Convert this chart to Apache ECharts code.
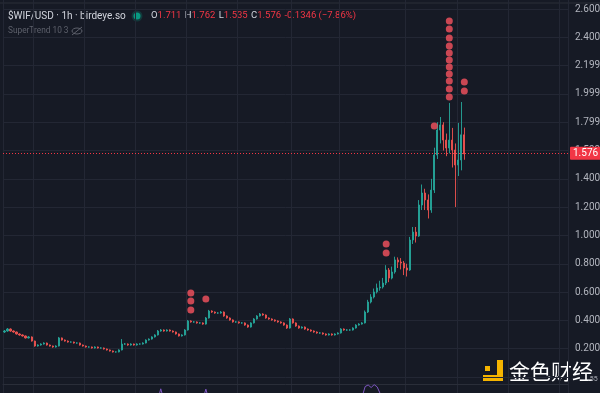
<!DOCTYPE html>
<html><head><meta charset="utf-8">
<script src="https://cdn.jsdelivr.net/npm/echarts@6/dist/echarts.min.js"></script>
<style>html,body{margin:0;padding:0;background:#161a25}#c{width:600px;height:393px}</style>
</head><body><div id="c"></div>
<script>
// ---- data ----
const opens = [
0.318,0.325,0.339,0.325,0.318,0.304,0.297,0.290,0.276,0.283,
0.254,0.219,0.226,0.233,0.240,0.226,0.219,0.212,0.219,0.276,
0.261,0.254,0.247,0.247,0.240,0.240,0.226,0.219,0.212,0.212,
0.205,0.212,0.205,0.205,0.198,0.191,0.184,0.177,0.177,0.191,
0.233,0.233,0.226,0.233,0.226,0.233,0.233,0.240,0.261,0.268,
0.283,0.297,0.325,0.332,0.325,0.332,0.325,0.318,0.304,0.290,
0.297,0.332,0.396,0.389,0.389,0.382,0.382,0.374,0.417,0.466,
0.459,0.452,0.452,0.459,0.431,0.417,0.403,0.389,0.389,0.382,
0.382,0.367,0.353,0.382,0.410,0.431,0.445,0.438,0.417,0.410,
0.403,0.396,0.389,0.382,0.367,0.346,0.410,0.382,0.360,0.346,
0.353,0.339,0.332,0.325,0.318,0.311,0.311,0.304,0.297,0.304,
0.297,0.304,0.311,0.339,0.332,0.332,0.332,0.346,0.367,0.374,
0.382,0.459,0.530,0.565,0.601,0.629,0.636,0.664,0.756,0.699,
0.742,0.827,0.812,0.805,0.770,0.756,0.968,1.024,0.996,1.215,
1.300,1.251,1.180,1.321,1.568,1.745,1.781,1.674,1.618,1.674,
1.604,1.498,1.533,1.711];
const closes = [
0.325,0.339,0.325,0.318,0.304,0.297,0.290,0.276,0.283,0.254,
0.219,0.226,0.233,0.240,0.226,0.219,0.212,0.219,0.276,0.261,
0.254,0.247,0.247,0.240,0.240,0.226,0.219,0.212,0.212,0.205,
0.212,0.205,0.205,0.198,0.191,0.184,0.177,0.177,0.191,0.233,
0.233,0.226,0.233,0.226,0.233,0.233,0.240,0.261,0.268,0.283,
0.297,0.325,0.332,0.325,0.332,0.325,0.318,0.304,0.290,0.297,
0.332,0.396,0.389,0.389,0.382,0.382,0.374,0.417,0.466,0.459,
0.452,0.452,0.459,0.431,0.417,0.403,0.389,0.389,0.382,0.382,
0.367,0.353,0.382,0.410,0.431,0.445,0.438,0.417,0.410,0.403,
0.396,0.389,0.382,0.367,0.346,0.410,0.382,0.360,0.346,0.353,
0.339,0.332,0.325,0.318,0.311,0.311,0.304,0.297,0.304,0.297,
0.304,0.311,0.339,0.332,0.332,0.332,0.346,0.367,0.374,0.382,
0.459,0.530,0.565,0.601,0.629,0.636,0.664,0.756,0.699,0.742,
0.827,0.812,0.805,0.770,0.756,0.968,1.024,0.996,1.215,1.300,
1.251,1.180,1.321,1.568,1.745,1.781,1.674,1.618,1.674,1.604,
1.498,1.533,1.711,1.576];
const highs = [
0.332,0.346,0.343,0.329,0.321,0.308,0.301,0.293,0.290,0.287,
0.257,0.231,0.238,0.245,0.243,0.229,0.222,0.224,0.283,0.279,
0.265,0.258,0.252,0.250,0.245,0.243,0.229,0.222,0.217,0.215,
0.217,0.215,0.210,0.208,0.201,0.194,0.187,0.182,0.196,0.268,
0.240,0.237,0.238,0.236,0.238,0.238,0.245,0.266,0.273,0.288,
0.302,0.332,0.339,0.336,0.337,0.336,0.329,0.321,0.307,0.302,
0.338,0.403,0.401,0.395,0.393,0.388,0.386,0.424,0.474,0.471,
0.463,0.458,0.466,0.463,0.435,0.421,0.407,0.395,0.393,0.388,
0.386,0.371,0.387,0.416,0.437,0.452,0.450,0.442,0.421,0.414,
0.407,0.400,0.393,0.386,0.371,0.417,0.414,0.386,0.364,0.358,
0.357,0.343,0.336,0.329,0.322,0.317,0.315,0.308,0.309,0.308,
0.309,0.316,0.345,0.343,0.338,0.338,0.351,0.373,0.380,0.388,
0.470,0.545,0.585,0.625,0.660,0.680,0.700,0.790,0.770,0.780,
0.850,0.845,0.840,0.820,0.800,0.990,1.060,1.060,1.250,1.360,
1.330,1.290,1.400,1.620,1.800,1.837,1.800,1.720,1.936,1.760,
1.650,1.795,1.943,1.762];
const lows = [
0.311,0.320,0.320,0.313,0.300,0.292,0.286,0.272,0.272,0.250,
0.214,0.215,0.222,0.229,0.222,0.215,0.207,0.208,0.216,0.257,
0.250,0.243,0.242,0.236,0.235,0.222,0.215,0.208,0.207,0.201,
0.201,0.201,0.200,0.194,0.187,0.180,0.173,0.172,0.174,0.188,
0.227,0.221,0.222,0.222,0.222,0.228,0.229,0.237,0.257,0.264,
0.279,0.293,0.320,0.320,0.321,0.321,0.314,0.300,0.286,0.286,
0.293,0.328,0.384,0.383,0.377,0.376,0.369,0.370,0.413,0.453,
0.447,0.446,0.447,0.426,0.412,0.398,0.384,0.383,0.377,0.376,
0.362,0.348,0.349,0.378,0.406,0.427,0.433,0.412,0.405,0.398,
0.391,0.384,0.377,0.362,0.340,0.342,0.377,0.355,0.341,0.342,
0.334,0.327,0.320,0.313,0.306,0.305,0.299,0.292,0.293,0.292,
0.293,0.300,0.307,0.327,0.326,0.326,0.328,0.342,0.363,0.370,
0.378,0.452,0.520,0.555,0.590,0.610,0.625,0.650,0.670,0.690,
0.730,0.770,0.760,0.720,0.710,0.750,0.940,0.950,0.990,1.180,
1.180,1.120,1.160,1.300,1.540,1.650,1.600,1.560,1.580,1.480,
1.201,1.420,1.460,1.535];
// signal dots: [candle index, price]
const signalDots = [
[62,0.593],[62,0.537],[62,0.473],[67,0.551],
[127,0.940],[127,0.876],[143,1.773],
[148,2.515],[148,2.459],[148,2.395],[148,2.339],[148,2.289],[148,2.240],
[148,2.190],[148,2.141],[148,2.091],[148,2.035],[148,1.978],
[153,2.084],[153,2.021]];
// lower pane oscillator (only peaks are visible)
const osc = [
50,50,50,50,50,50,50,50,50,50, 50,50,50,50,50,50,50,50,50,50,
50,50,50,50,50,50,50,50,50,50, 50,50,50,50,50,50,50,50,50,50,
50,50,50,50,50,50,50,50,50,50, 50,50,85,50,50,50,50,50,50,50,
50,50,50,50,50,50,50,84,50,50, 50,50,50,50,50,50,50,50,50,50,
50,50,50,50,50,50,50,50,50,50, 50,50,50,50,50,50,50,50,50,50,
50,50,50,50,50,50,50,50,50,50, 50,50,50,50,50,50,50,50,50,60,
92,97,89,98,91,70,50,50,50,50, 50,50,50,50,50,50,50,50,50,50,
50,50,50,50,50,50,50,50,50,50, 50,50,50,50,50,50,50,50,50,50,
50,50,50,50];
const yTickLabels = ['', '0.2000','0.4000','0.6000','0.8000','1.000','1.200','1.400','1.599','1.799','1.999','2.199','2.400','2.600'];
const totalSlots = 188;            // time slots on the x axis (incl. empty future area)
const timeGridSlots = [0,10,27,44,61,78,96,112,134,151,168,185];
const symbol = '$WIF/USD · 1h · birdeye.so';
const changeText = '-0.1346 (−7.86%)';

// ---- build ----
const cats = Array.from({length: totalSlots}, (_, i) => String(i));
const candles = closes.map((c, i) => [opens[i], c, lows[i], highs[i]]);
const n = closes.length - 1;
const fmt = v => v.toFixed(3);

const chart = echarts.init(document.getElementById('c'), null, {renderer: 'canvas'});
const GRID = '#232734';
chart.setOption({
  backgroundColor: '#161a25',
  animation: false,
  grid: [
    {left: 3, right: 32, top: 0, bottom: 0, outerBoundsMode: 'none', containLabel: false},
    {left: 3, right: 32, top: 9, height: 368, outerBoundsMode: 'none', containLabel: false},
    {left: 3, right: 32, top: 384, height: 16, outerBoundsMode: 'none', containLabel: false}
  ],
  xAxis: [
    {gridIndex: 0, type: 'category', data: cats, boundaryGap: true,
     axisLine: {show: false}, axisTick: {show: false}, axisLabel: {show: false},
     splitLine: {show: true, interval: (i) => timeGridSlots.includes(i), lineStyle: {color: GRID, width: 1}}},
    {gridIndex: 1, type: 'category', data: cats, boundaryGap: true,
     axisLine: {show: false}, axisTick: {show: false}, axisLabel: {show: false}, splitLine: {show: false}},
    {gridIndex: 2, type: 'category', data: cats, boundaryGap: true, position: 'top',
     axisLine: {show: true, lineStyle: {color: '#2a2e39'}}, axisTick: {show: false}, axisLabel: {show: false}, splitLine: {show: false}}
  ],
  yAxis: [
    {gridIndex: 0, type: 'value', show: false},
    {gridIndex: 1, type: 'value', position: 'right', min: 0, max: 2.6, interval: 0.2,
     axisLine: {show: false}, axisTick: {show: false},
     splitLine: {show: true, lineStyle: {color: GRID, width: 1}},
     axisLabel: {color: '#b2b5be', fontFamily: 'Roboto', fontSize: 10, margin: 7, align: 'left',
       formatter: v => yTickLabels[Math.round(v / 0.2)] || ''}},
    {gridIndex: 2, type: 'value', min: 50, max: 100, show: false}
  ],
  series: [
    {type: 'candlestick', xAxisIndex: 1, yAxisIndex: 1, data: candles, barWidth: 1.6,
     itemStyle: {color: '#26a69a', color0: '#ef5350', borderColor: '#26a69a', borderColor0: '#ef5350', borderWidth: 1, opacity: 0.9},
     markLine: {symbol: 'none', silent: true, animation: false,
       lineStyle: {color: '#f23645', type: [1, 2], width: 1},
       label: {show: true, position: 'end', distance: 2, formatter: fmt(closes[n]),
         backgroundColor: '#f23645', color: '#ffffff', fontFamily: 'Roboto', fontSize: 10,
         padding: [2, 3, 1, 3], borderRadius: 1},
       data: [{yAxis: closes[n]}]}},
    {type: 'scatter', xAxisIndex: 1, yAxisIndex: 1, data: signalDots, symbolSize: 7,
     itemStyle: {color: '#f7525f'}, z: 5},
    {type: 'line', xAxisIndex: 2, yAxisIndex: 2, data: osc, symbol: 'none', clip: true,
     lineStyle: {color: '#7e57c2', width: 1}}
  ],
  graphic: [
    {type: 'line', shape: {x1: 0, y1: 3, x2: 600, y2: 3}, style: {stroke: '#2a2e39', lineWidth: 1}, silent: true},
    {type: 'text', x: 8, y: 16, style: {text: symbol, fill: '#d1d4dc', font: '10px Roboto', verticalAlign: 'middle'}},
    {type: 'circle', shape: {cx: 137, cy: 16, r: 5.5}, style: {fill: 'rgba(8,153,129,0.25)'}},
    {type: 'circle', shape: {cx: 137, cy: 16, r: 3.5}, style: {fill: '#089981'}},
    {type: 'text', x: 151, y: 16, style: {
      text: '{k|O}{v|' + fmt(opens[n]) + '} {k|H}{v|' + fmt(highs[n]) + '} {k|L}{v|' + fmt(lows[n]) + '} {k|C}{v|' + fmt(closes[n]) + '} {v|' + changeText + '}',
      verticalAlign: 'middle',
      rich: {k: {fill: '#d1d4dc', font: '9.5px Roboto'}, v: {fill: '#f23645', font: '9.5px Roboto'}}}},
    {type: 'text', x: 8, y: 31, style: {text: 'SuperTrend 10 3', fill: '#5d606b', font: '8.3px Roboto', verticalAlign: 'middle'}},
    {type: 'ellipse', shape: {cx: 77, cy: 31, rx: 5, ry: 3}, style: {fill: 'none', stroke: '#5d606b', lineWidth: 1}},
    {type: 'line', shape: {x1: 72, y1: 35, x2: 82, y2: 27}, style: {stroke: '#5d606b', lineWidth: 1}},
    // watermark
    {type: 'rect', shape: {x: 497, y: 360, width: 6, height: 21}, style: {fill: '#f5b400'}},
    {type: 'rect', shape: {x: 483, y: 375, width: 20, height: 6}, style: {fill: '#f5b400'}},
    {type: 'rect', shape: {x: 485, y: 366, width: 5, height: 5}, style: {fill: '#f5b400'}},
    {type: 'text', x: 509, y: 371, style: {text: '金色财经', fill: '#ffffff', font: '21px "Noto Sans CJK SC"', verticalAlign: 'middle'}},
    {type: 'text', x: 588, y: 379, style: {text: '.55', fill: '#b2b5be', font: '7px Roboto', verticalAlign: 'middle'}}
  ]
});
</script></body></html>
